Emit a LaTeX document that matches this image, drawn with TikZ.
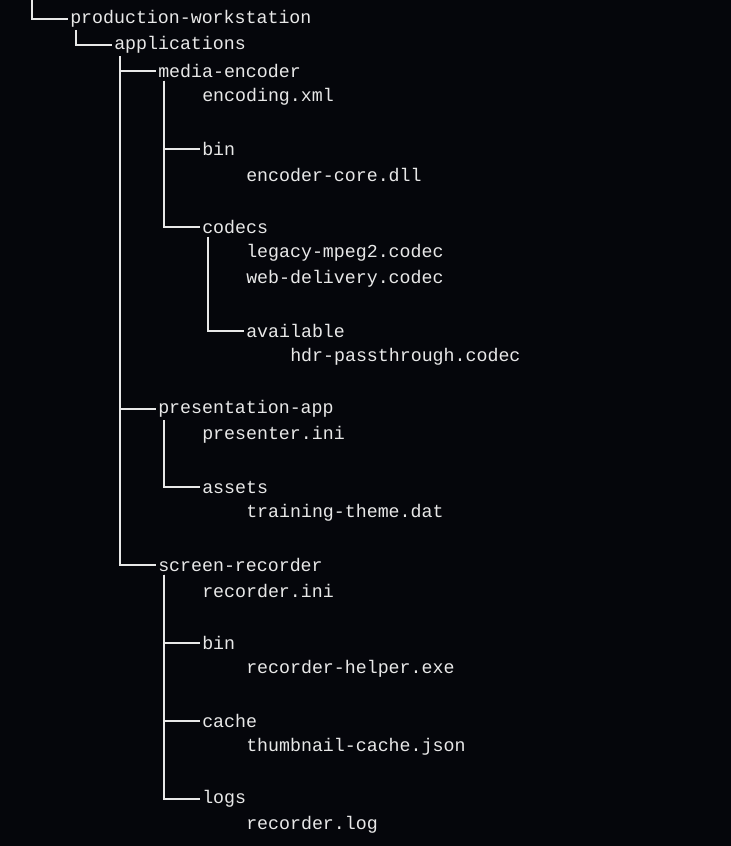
\documentclass[tikz,border=0pt]{standalone}
\usepackage{fontspec}
\setmonofont{Liberation Mono}
\definecolor{bg}{HTML}{05060B}
\definecolor{fg}{HTML}{E8E8E8}
\begin{document}
\begin{tikzpicture}[x=0.75pt,y=-0.75pt,
  entry/.style={anchor=west,inner sep=0pt,text=fg,font=\ttfamily\fontsize{13.7}{16}\selectfont},
  branch/.style={draw=fg,line width=0.9pt}]
\fill[bg] (0,0) rectangle (731,846);
\useasboundingbox (0,0) rectangle (731,846);

\coordinate (root) at (32,0);
\node[entry] (pw) at (70,19) {production-workstation};
\node[entry] (apps) at (114,45) {applications};
\node[entry] (me) at (158,71) {media-encoder};
\node[entry] (encxml) at (202,97) {encoding.xml};
\node[entry] (mebin) at (202,149) {bin};
\node[entry] (core) at (246,175) {encoder-core.dll};
\node[entry] (codecs) at (202,227) {codecs};
\node[entry] (mpeg) at (246,253) {legacy-mpeg2.codec};
\node[entry] (web) at (246,279) {web-delivery.codec};
\node[entry] (avail) at (246,331) {available};
\node[entry] (hdr) at (290,357) {hdr-passthrough.codec};
\node[entry] (pa) at (158,409) {presentation-app};
\node[entry] (pini) at (202,435) {presenter.ini};
\node[entry] (assets) at (202,487) {assets};
\node[entry] (theme) at (246,513) {training-theme.dat};
\node[entry] (sr) at (158,565) {screen-recorder};
\node[entry] (rini) at (202,591) {recorder.ini};
\node[entry] (srbin) at (202,643) {bin};
\node[entry] (helper) at (246,669) {recorder-helper.exe};
\node[entry] (cache) at (202,721) {cache};
\node[entry] (thumb) at (246,747) {thumbnail-cache.json};
\node[entry] (logs) at (202,799) {logs};
\node[entry] (log) at (246,825) {recorder.log};

% tree branches
\draw[branch] (root) |- ([xshift=-1.5pt]pw.west);
\draw[branch] ([xshift=4.5pt,yshift=-2pt]pw.south west) |- ([xshift=-1.5pt]apps.west);
\draw[branch] ([xshift=4.5pt,yshift=-2pt]apps.south west) |- ([xshift=-1.5pt]me.west);
\draw[branch] ([xshift=4.5pt,yshift=-2pt]apps.south west) |- ([xshift=-1.5pt]pa.west);
\draw[branch] ([xshift=4.5pt,yshift=-2pt]apps.south west) |- ([xshift=-1.5pt]sr.west);
\draw[branch] ([xshift=4.5pt,yshift=-2pt]me.south west) |- ([xshift=-1.5pt]mebin.west);
\draw[branch] ([xshift=4.5pt,yshift=-2pt]me.south west) |- ([xshift=-1.5pt]codecs.west);
\draw[branch] ([xshift=4.5pt,yshift=-2pt]codecs.south west) |- ([xshift=-1.5pt]avail.west);
\draw[branch] ([xshift=4.5pt,yshift=-2pt]pa.south west) |- ([xshift=-1.5pt]assets.west);
\draw[branch] ([xshift=4.5pt,yshift=-2pt]sr.south west) |- ([xshift=-1.5pt]srbin.west);
\draw[branch] ([xshift=4.5pt,yshift=-2pt]sr.south west) |- ([xshift=-1.5pt]cache.west);
\draw[branch] ([xshift=4.5pt,yshift=-2pt]sr.south west) |- ([xshift=-1.5pt]logs.west);
\end{tikzpicture}
\end{document}
